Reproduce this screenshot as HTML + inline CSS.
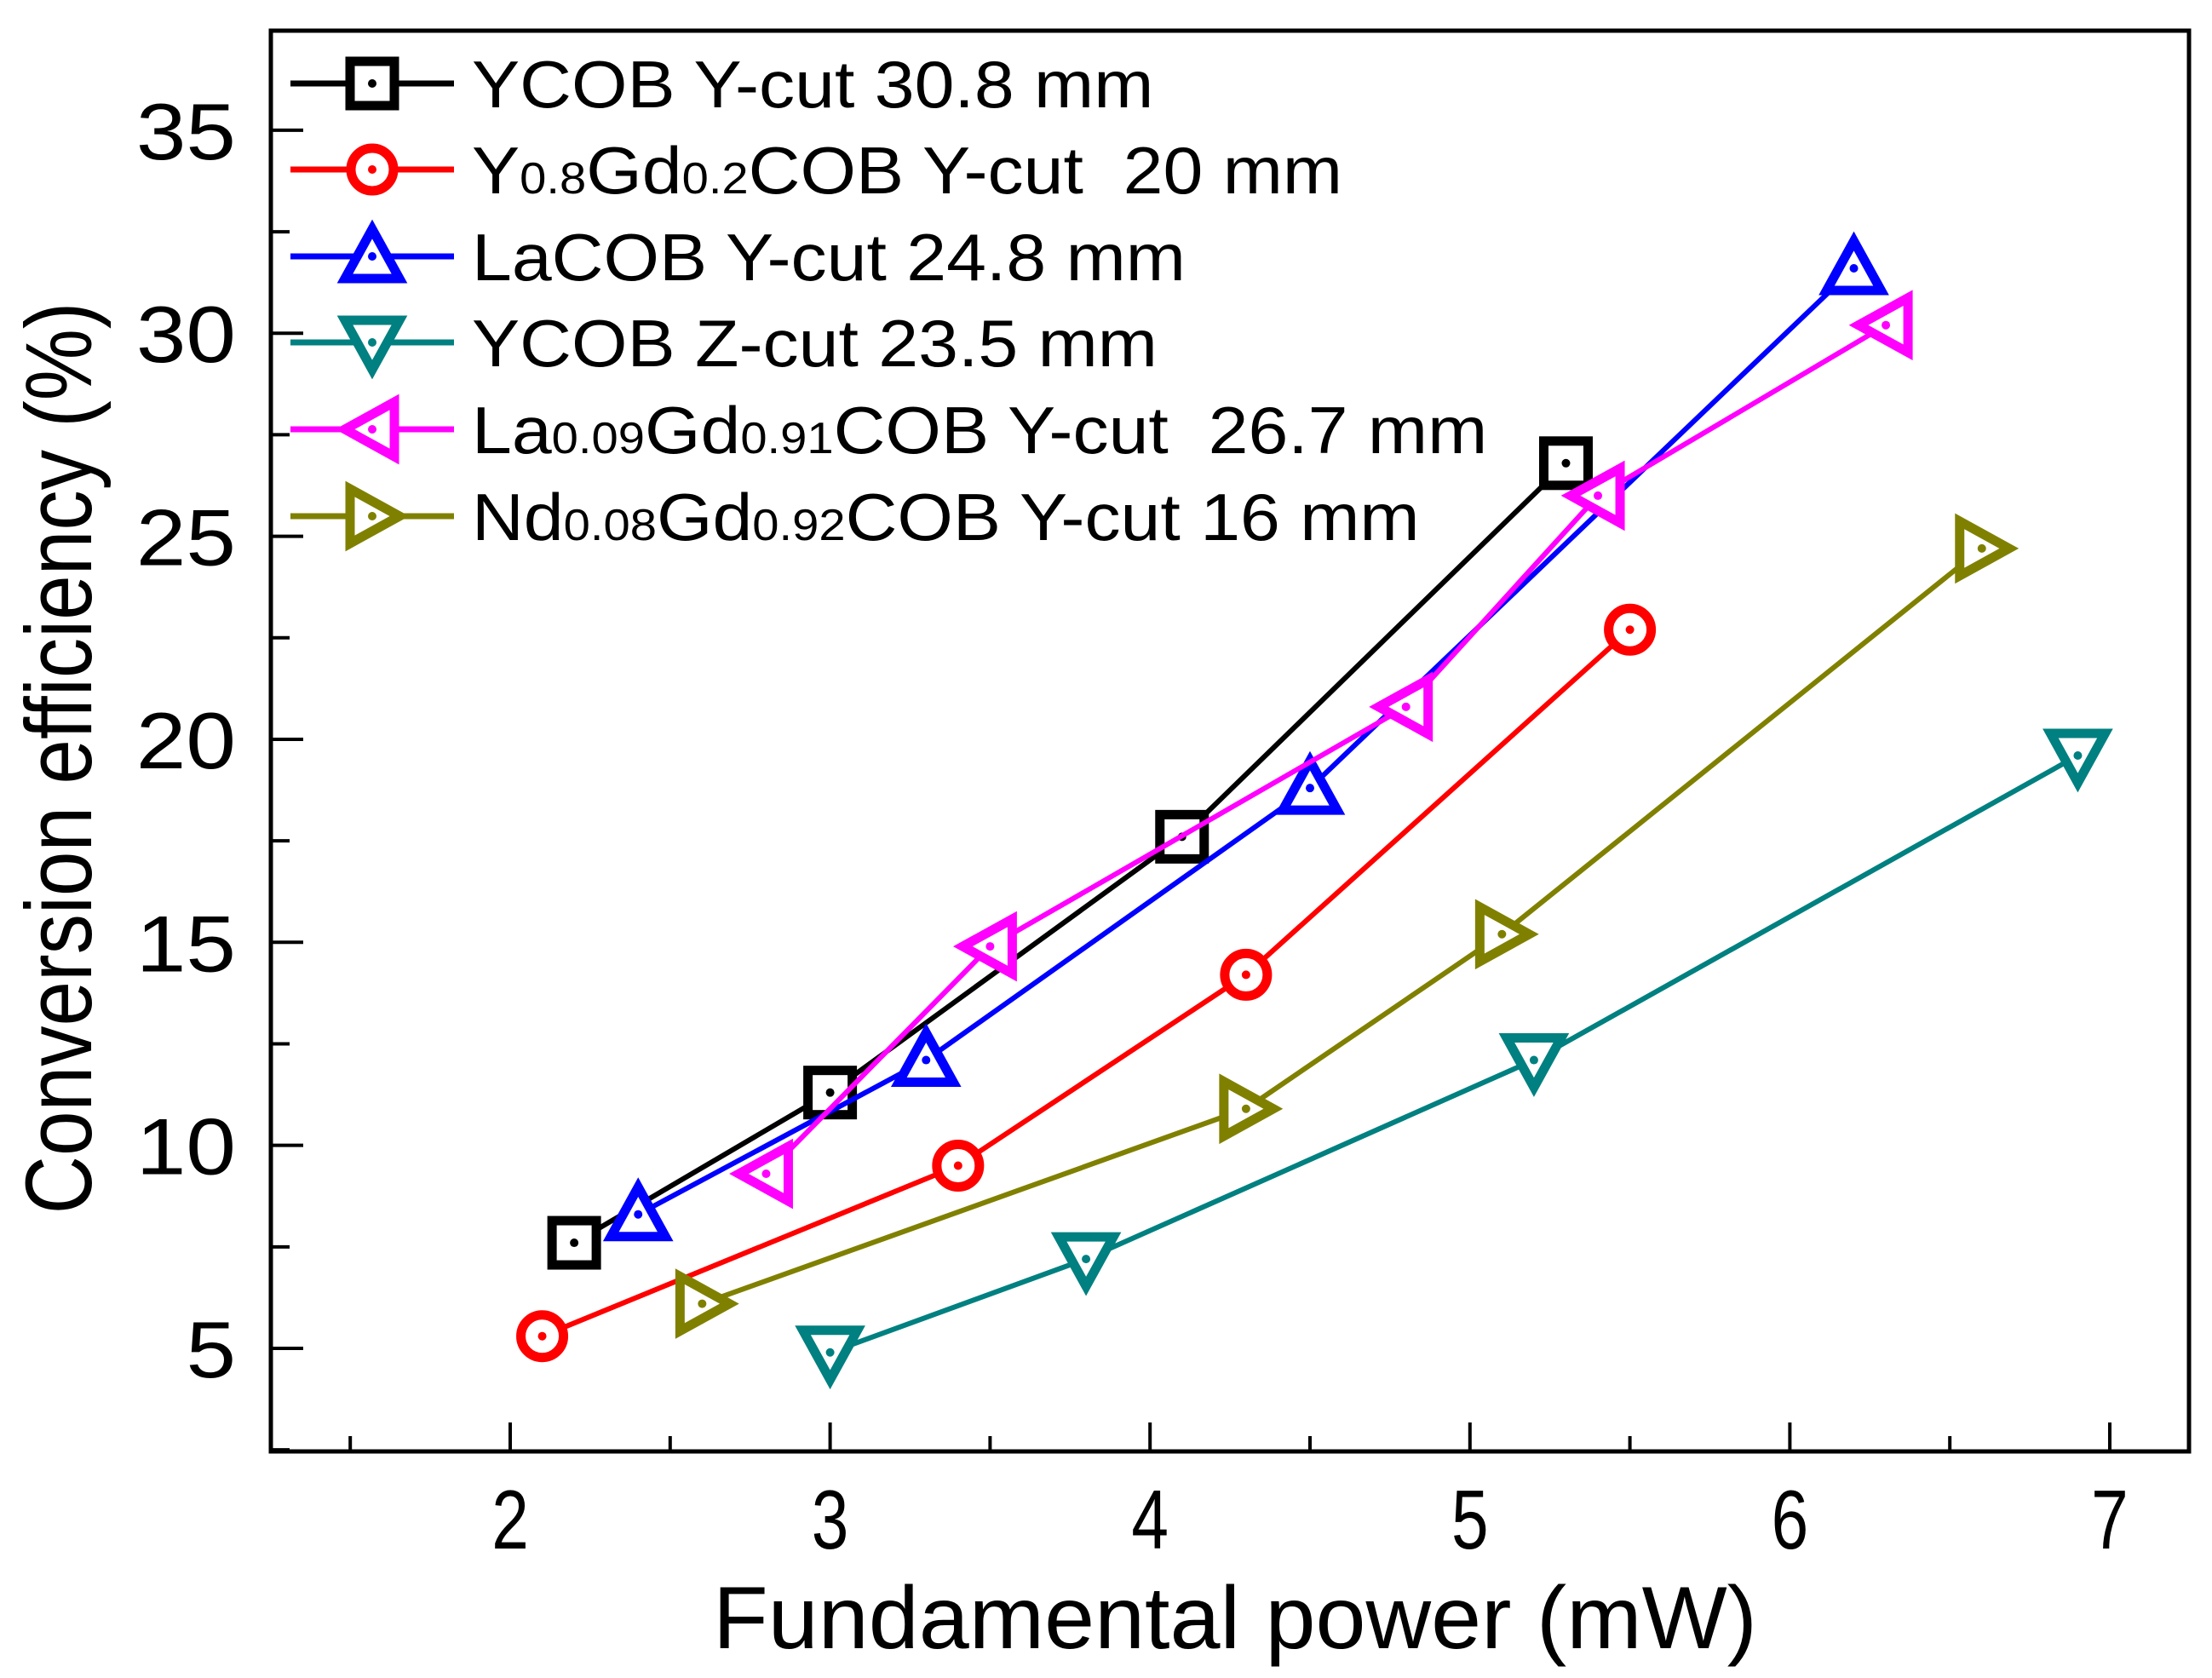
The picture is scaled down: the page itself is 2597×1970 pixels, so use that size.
<!DOCTYPE html>
<html><head><meta charset="utf-8"><style>
html,body{margin:0;padding:0;background:#fff;}
svg{display:block;font-family:"Liberation Sans",sans-serif;}
</style></head><body>
<svg id="chart" width="2597" height="1970" viewBox="0 0 2597 1970">
<g id="axes"></g><g id="series"></g><g id="legend"></g>
</svg>
<script>
const xTicks = [2,3,4,5,6,7];
const yTicks = [5,10,15,20,25,30,35];
const seriesNames = ["YCOB Y-cut 30.8 mm","Y0.8Gd0.2COB Y-cut  20 mm","LaCOB Y-cut 24.8 mm","YCOB Z-cut 23.5 mm","La0.09Gd0.91COB Y-cut  26.7 mm","Nd0.08Gd0.92COB Y-cut 16 mm"];
const x0 = [2.2,3.0,4.1,5.3];
const y0 = [7.6,11.3,17.6,26.8];
const x1 = [2.1,3.4,4.3,5.5];
const y1 = [5.3,9.5,14.2,22.7];
const x2 = [2.4,3.3,4.5,6.2];
const y2 = [8.3,12.1,18.8,31.6];
const x3 = [3.0,3.8,5.2,6.9];
const y3 = [4.9,7.2,12.1,19.6];
const x4 = [2.8,3.5,4.8,5.4,6.3];
const y4 = [9.3,14.9,20.8,26.0,30.2];
const x5 = [2.6,4.3,5.1,6.6];
const y5 = [6.1,10.9,15.2,24.7];

const NS="http://www.w3.org/2000/svg";
const L=318,R=2570,T=36,B=1704;
function sx(v){return 599+(v-2)*375.6;}
function sy(v){return 1583-(v-5)*47.67;}
function mk(tag,attrs,parent){const e=document.createElementNS(NS,tag);for(const k in attrs)e.setAttribute(k,attrs[k]);parent.appendChild(e);return e;}
const axes=document.getElementById('axes'), ser=document.getElementById('series'), leg=document.getElementById('legend');

const frame=mk('rect',{x:L,y:T,width:R-L,height:B-T,fill:'none',stroke:'#000','stroke-width':5},axes);


xTicks.forEach(t=>{
  const ln=mk('line',{x1:sx(t),x2:sx(t),y1:B,y2:B-34,stroke:'#000','stroke-width':4},axes);
  
  
  const m=mk('line',{x1:sx(t-0.5),x2:sx(t-0.5),y1:B,y2:B-18,stroke:'#000','stroke-width':4},axes);
  
  
  const tx=mk('text',{x:sx(t),y:1818,'font-size':98,'text-anchor':'middle',transform:`translate(${sx(t)},0) scale(0.8,1) translate(${-sx(t)},0)`},axes);
  tx.textContent=t;
  
  
});
yTicks.forEach(t=>{
  const ln=mk('line',{x1:L,x2:L+38,y1:sy(t),y2:sy(t),stroke:'#000','stroke-width':4},axes);
  
  
  const m=mk('line',{x1:L,x2:L+22,y1:sy(t-2.5),y2:sy(t-2.5),stroke:'#000','stroke-width':4},axes);
  
  
  const tx=mk('text',{x:277,y:sy(t)+34,'font-size':94,'text-anchor':'end',transform:`translate(277,0) scale(1.12,1) translate(-277,0)`},axes);
  tx.textContent=t;
  
  
});
const xt=mk('text',{x:1450,y:1935,'font-size':104,'text-anchor':'middle',transform:'translate(1450,0) scale(1.02,1) translate(-1450,0)'},axes);
xt.textContent='Fundamental power (mW)';


const yt=mk('text',{x:0,y:0,'font-size':110,'text-anchor':'middle',transform:'translate(107,890) rotate(-90) scale(0.86,1)'},axes);
yt.textContent='Conversion efficiency (%)';



const colors=['#000000','#ff0000','#0000ff','#008080','#ff00ff','#808000'];
const shapes=['square','circle','up','down','left','right'];
const xs=[x0,x1,x2,x3,x4,x5], ys=[y0,y1,y2,y3,y4,y5];
function marker(shape,cx,cy,c,parent){
  const s=28; let e;
  if(shape==='square') e=mk('rect',{x:cx-s+2,y:cy-s+2,width:2*s-4,height:2*s-4},parent);
  else if(shape==='circle') e=mk('circle',{cx:cx,cy:cy,r:s-3},parent);
  else {
    let p;
    if(shape==='up') p=[[0,-s-4],[s+4,s-2],[-s-4,s-2]];
    if(shape==='down') p=[[0,s+4],[s+4,-s+2],[-s-4,-s+2]];
    if(shape==='left') p=[[-s-4,0],[s-2,-s-4],[s-2,s+4]];
    if(shape==='right') p=[[s+4,0],[-s+2,-s-4],[-s+2,s+4]];
    e=mk('polygon',{points:p.map(q=>(cx+q[0])+','+(cy+q[1])).join(' ')},parent);
  }
  e.setAttribute('fill','#fff');e.setAttribute('stroke',c);e.setAttribute('stroke-width',11);e.setAttribute('stroke-linejoin','miter');
  mk('circle',{cx:cx,cy:cy,r:5,fill:c},parent);
  return e;
}
for(let i=0;i<6;i++){
  const g=mk('g',{},ser);
  
  
  const pts=xs[i].map((v,j)=>sx(v)+','+sy(ys[i][j])).join(' ');
  const pl=mk('polyline',{points:pts,fill:'none',stroke:colors[i],'stroke-width':6},g);
  
  
  xs[i].forEach((v,j)=>{
    const m=marker(shapes[i],sx(v),sy(ys[i][j]),colors[i],g);
    
    
  });
}
const legY=[98,199,301,402,504,606];
const legHTML=[
 'YCOB Y-cut 30.8 mm',
 'Y<tspan font-size="52">0.8</tspan>Gd<tspan font-size="52">0.2</tspan>COB Y-cut  20 mm',
 'LaCOB Y-cut 24.8 mm',
 'YCOB Z-cut 23.5 mm',
 'La<tspan font-size="52">0.09</tspan>Gd<tspan font-size="52">0.91</tspan>COB Y-cut  26.7 mm',
 'Nd<tspan font-size="52">0.08</tspan>Gd<tspan font-size="52">0.92</tspan>COB Y-cut 16 mm'];
for(let i=0;i<6;i++){
  const g=mk('g',{},leg);
  
  
  mk('line',{x1:341,x2:533,y1:legY[i],y2:legY[i],stroke:colors[i],'stroke-width':7},g);
  marker(shapes[i],437,legY[i],colors[i],g);
  const t=mk('text',{x:554,y:legY[i]+28,'font-size':78,transform:`translate(554,0) scale(1.08,1) translate(-554,0)`},g);
  t.style.whiteSpace='pre';
  t.innerHTML=legHTML[i];
  
  
}
</script>
</body></html>
